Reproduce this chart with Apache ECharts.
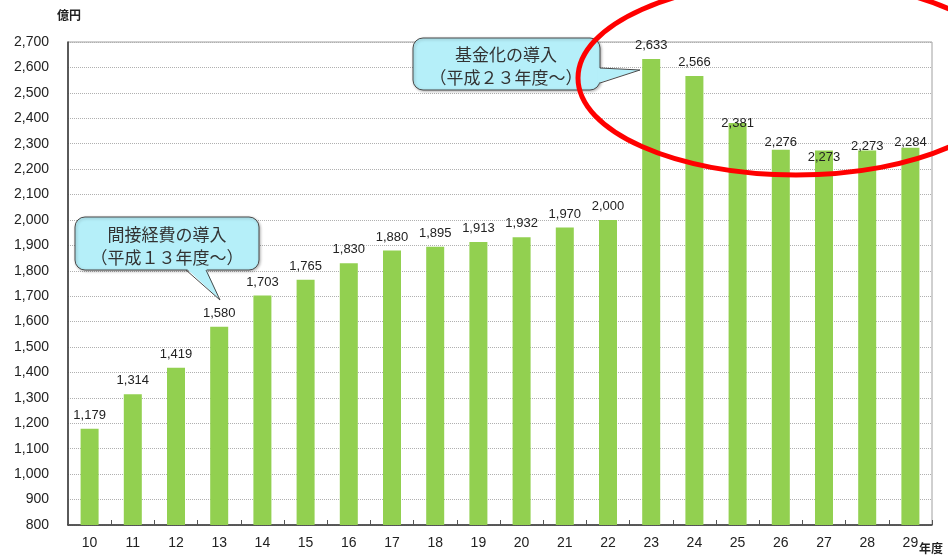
<!DOCTYPE html>
<html>
<head>
<meta charset="utf-8">
<script src="https://cdn.jsdelivr.net/npm/echarts@6/dist/echarts.min.js"></script>
<style>
  html, body { margin: 0; padding: 0; background: #fff; }
  #chart { width: 948px; height: 555px; }
</style>
</head>
<body>
<div id="chart"></div>
<script>
var years = ['10', '11', '12', '13', '14', '15', '16', '17', '18', '19',
             '20', '21', '22', '23', '24', '25', '26', '27', '28', '29'];
var budget = [1179, 1314, 1419, 1580, 1703, 1765, 1830, 1880, 1895, 1913,
              1932, 1970, 2000, 2633, 2566, 2381, 2276, 2273, 2273, 2284];
var yMin = 800;
var yMax = 2700;
var yStep = 100;

// label nudges (index -> dy) where the source places labels lower
var labelShift = {15: 14, 16: 6, 17: 20, 18: 9, 19: 8};

var font = '"Liberation Sans", Arial, "Noto Sans CJK JP", sans-serif';
var jpFont = '"Noto Sans CJK JP", sans-serif';

function fmt(v) {
    return String(v).replace(/\B(?=(\d{3})+(?!\d))/g, ',');
}

var chart = echarts.init(document.getElementById('chart'));

var barData = budget.map(function (v, i) {
    var item = {value: v};
    if (labelShift[i]) {
        item.label = {offset: [0, labelShift[i]]};
    }
    return item;
});

var boxFill = '#b5eff9';
var boxLine = '#4a4a4a';

// speech bubble: rounded rect + pointer (fill) + pointer outline
function bubble(rect, fillPts, linePts, text, tx, ty) {
    return [
        {
            type: 'rect', z: 10,
            shape: {x: rect[0], y: rect[1], width: rect[2], height: rect[3], r: 10},
            style: {fill: boxFill, stroke: boxLine, lineWidth: 1,
                    shadowBlur: 3, shadowColor: 'rgba(0,0,0,0.3)', shadowOffsetX: 1, shadowOffsetY: 1}
        },
        {
            type: 'polygon', z: 11,
            shape: {points: fillPts},
            style: {fill: boxFill, stroke: null}
        },
        {
            type: 'polyline', z: 12,
            shape: {points: linePts},
            style: {fill: null, stroke: boxLine, lineWidth: 1}
        },
        {
            type: 'text', z: 13, x: tx, y: ty,
            style: {text: text, align: 'center', verticalAlign: 'middle',
                    font: '17px ' + jpFont, fill: '#333', lineHeight: 23}
        }
    ];
}

var graphics = [
    {
        type: 'text',
        left: 57,
        top: 9,
        style: {text: '億円', fill: '#222', font: 'bold 12px ' + jpFont}
    },
    {
        type: 'text',
        left: 919,
        top: 542,
        style: {text: '年度', fill: '#222', font: 'bold 12px ' + jpFont}
    }
].concat(
    bubble([75, 217, 184, 53],
           [[186, 268], [220, 300], [206, 268]],
           [[186, 270], [220, 300], [206, 270]],
           '間接経費の導入\n（平成１３年度～）', 167, 246),
    bubble([413, 38, 187, 52],
           [[598, 68], [640, 70], [598, 83]],
           [[600, 68], [640, 70], [600, 83]],
           '基金化の導入\n（平成２３年度～）', 506, 66),
    [{
        type: 'ellipse', z: 20,
        shape: {cx: 796, cy: 78, rx: 218, ry: 97},
        style: {fill: null, stroke: '#ff0000', lineWidth: 5}
    }]
);

var option = {
    animation: false,
    grid: {
        left: 68,
        right: 16,
        top: 42,
        bottom: 30,
        show: true,
        borderColor: '#a0a0a0',
        borderWidth: 1
    },
    xAxis: {
        type: 'category',
        data: years,
        axisLine: {lineStyle: {color: '#333', width: 1.5}},
        axisTick: {show: true, inside: true, length: 5, lineStyle: {color: '#555'}},
        axisLabel: {color: '#222', fontSize: 14, fontFamily: font, margin: 11}
    },
    yAxis: {
        type: 'value',
        min: yMin,
        max: yMax,
        interval: yStep,
        axisLine: {show: true, lineStyle: {color: '#333', width: 1.5}},
        axisTick: {show: false},
        axisLabel: {
            color: '#222',
            fontSize: 14,
            fontFamily: font,
            margin: 19,
            formatter: function (v) { return fmt(v); }
        },
        splitLine: {lineStyle: {color: '#b0b0b0', type: 'dotted', width: 1}}
    },
    series: [{
        type: 'bar',
        data: barData,
        barWidth: 18,
        itemStyle: {color: '#92d050'},
        label: {
            show: true,
            position: 'top',
            distance: 7,
            color: '#222',
            fontSize: 13,
            fontFamily: font,
            formatter: function (p) { return fmt(p.value); }
        }
    }],
    graphic: graphics
};

chart.setOption(option);
</script>
</body>
</html>
